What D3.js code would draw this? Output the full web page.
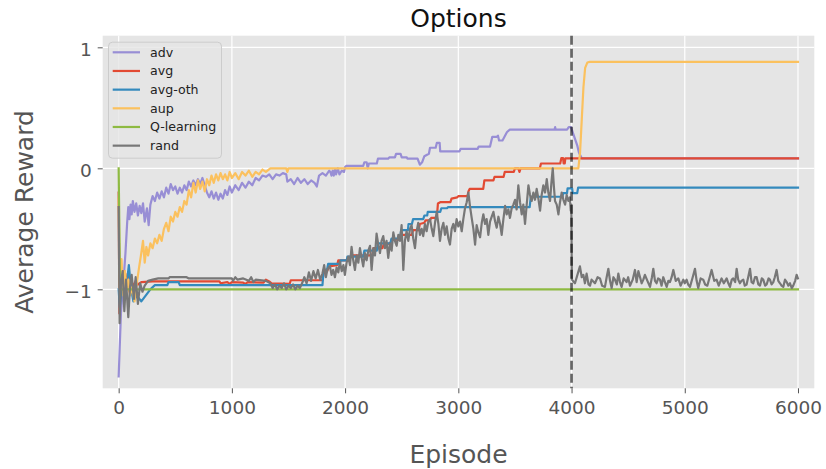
<!DOCTYPE html>
<html>
<head>
<meta charset="utf-8">
<script src="https://cdn.jsdelivr.net/npm/d3@7"></script>
<style>
  html, body { margin: 0; padding: 0; background: #fff; }
  svg { display: block; font-family: "DejaVu Sans", sans-serif; }
</style>
</head>
<body>
<svg id="chart" width="826" height="469"></svg>
<script>
// ---- data: [episode, average reward] ----
const seriesNames = ["adv", "avg", "avg-oth", "aup", "Q-learning", "rand"];
const seriesColors = ["#988ED5", "#E24A33", "#348ABD", "#FBC15E", "#8EBA42", "#777777"];
const xTicks = [0, 1000, 2000, 3000, 4000, 5000, 6000];
const yTicks = [-1, 0, 1];
const yTickLabels = ["\u22121", "0", "1"];
const switchEpisode = 4000;

const advData = [
  [0,-1.72],[20,-1.2],[45,-0.9],[60,-0.7],[75,-0.45],[85,-0.32],[95,-0.42],[105,-0.3],[115,-0.38],
  [125,-0.27],[140,-0.36],[155,-0.29],[170,-0.39],[185,-0.31],[200,-0.37],[215,-0.29],[230,-0.44],
  [250,-0.33],[265,-0.47],[280,-0.3],[300,-0.23],[320,-0.27],[340,-0.2],[360,-0.25],[380,-0.19],
  [400,-0.24],[420,-0.16],[440,-0.21],[460,-0.13],[480,-0.18],[500,-0.15],[520,-0.21],[540,-0.16],
  [560,-0.2],[580,-0.14],[600,-0.18],[620,-0.11],[640,-0.15],[660,-0.1],[680,-0.14],[700,-0.09],
  [720,-0.13],[740,-0.08],[760,-0.14],[780,-0.2],[800,-0.24],[820,-0.19],[840,-0.25],[860,-0.2],
  [880,-0.26],[900,-0.21],[920,-0.25],[940,-0.18],[960,-0.22],[980,-0.15],[1000,-0.2],[1030,-0.14],
  [1060,-0.18],[1090,-0.12],[1120,-0.16],[1150,-0.11],[1180,-0.14],[1210,-0.08],[1240,-0.1],
  [1270,-0.06],[1300,-0.07],[1330,-0.05],[1360,-0.09],[1390,-0.05],[1420,-0.06],[1450,-0.04],
  [1480,-0.05],[1490,-0.11],[1520,-0.09],[1550,-0.13],[1580,-0.08],[1610,-0.12],[1640,-0.09],
  [1670,-0.13],[1700,-0.1],[1730,-0.12],[1750,-0.15],[1770,-0.06],[1800,-0.04],[1830,-0.06],
  [1860,-0.02],[1870,-0.03],[1880,-0.06],[1890,-0.02],[1900,-0.06],[1910,-0.01],[1920,-0.05],
  [1935,0.0],[1950,-0.05],[1970,-0.02],[1990,-0.03],[2000,0.01],[2010,0.02],[2160,0.02],[2170,0.05],
  [2190,0.05],[2200,0.0],[2210,0.04],[2280,0.04],[2290,0.08],[2380,0.08],[2390,0.09],[2440,0.09],
  [2450,0.12],[2490,0.12],[2500,0.09],[2545,0.09],[2550,0.08],[2640,0.08],[2660,0.03],[2680,0.05],
  [2700,0.1],[2740,0.12],[2750,0.17],[2800,0.17],[2810,0.21],[2835,0.21],[2840,0.14],[3010,0.14],
  [3020,0.16],[3170,0.16],[3180,0.18],[3280,0.18],[3300,0.26],[3340,0.26],[3350,0.27],[3360,0.23],
  [3390,0.23],[3430,0.3],[3455,0.32],[3850,0.32],[3855,0.34],[3860,0.32],[3960,0.32],[3975,0.34],
  [3995,0.34],[4010,0.3],[4050,0.19],[4065,0.13],[4090,0.083],[6000,0.083]
];

const avgData = [
  [0,-0.2],[6,-1.2],[20,-0.9],[35,-1.0],[50,-0.85],[65,-0.95],[80,-0.87],[95,-1.02],[110,-0.92],
  [130,-0.98],[150,-0.93],[170,-0.96],[200,-0.94],[300,-0.935],[890,-0.935],[900,-0.95],[960,-0.94],
  [980,-0.955],[1000,-0.94],[1100,-0.945],[1120,-0.955],[1140,-0.94],[1280,-0.945],[1300,-0.92],
  [1330,-0.935],[1350,-0.95],[1510,-0.955],[1520,-0.925],[1800,-0.925],[1810,-0.87],[1840,-0.85],
  [1860,-0.81],[1930,-0.8],[1940,-0.76],[2040,-0.76],[2050,-0.72],[2240,-0.72],[2250,-0.66],
  [2330,-0.66],[2340,-0.63],[2400,-0.62],[2410,-0.59],[2480,-0.59],[2490,-0.55],[2590,-0.55],
  [2600,-0.51],[2650,-0.51],[2660,-0.46],[2700,-0.45],[2710,-0.43],[2750,-0.43],[2760,-0.41],
  [2810,-0.41],[2820,-0.29],[2840,-0.28],[2930,-0.28],[2940,-0.25],[2990,-0.24],[3000,-0.23],
  [3080,-0.23],[3090,-0.19],[3100,-0.17],[3220,-0.17],[3230,-0.1],[3310,-0.1],[3320,-0.07],
  [3400,-0.07],[3410,-0.03],[3490,-0.03],[3500,0.0],[3530,0.0],[3540,-0.03],[3550,0.0],[3720,0.0],
  [3730,0.04],[3900,0.04],[3910,0.085],[3925,0.085],[3930,0.04],[3940,0.04],[3945,0.083],[6000,0.083]
];

const avgOthData = [
  [0,-1.0],[10,-1.15],[30,-0.95],[60,-1.05],[90,-0.8],[110,-1.0],[130,-1.1],[160,-1.05],[200,-1.1],
  [240,-1.05],[280,-1.0],[320,-0.965],[430,-0.965],[440,-0.94],[530,-0.94],[540,-0.965],
  [1800,-0.965],[1810,-0.84],[1840,-0.84],[1850,-0.79],[1955,-0.79],[1960,-0.76],[2015,-0.76],
  [2020,-0.73],[2160,-0.73],[2170,-0.68],[2280,-0.68],[2290,-0.62],[2400,-0.62],[2410,-0.58],
  [2485,-0.58],[2495,-0.51],[2555,-0.51],[2560,-0.46],[2590,-0.46],[2600,-0.42],[2690,-0.42],
  [2700,-0.39],[2725,-0.39],[2730,-0.36],[2840,-0.36],[2850,-0.33],[2900,-0.33],[2910,-0.32],
  [3630,-0.32],[3640,-0.235],[3920,-0.235],[3925,-0.205],[3960,-0.205],[3965,-0.165],[4005,-0.165],
  [4010,-0.205],[4050,-0.205],[4058,-0.16],[6000,-0.16]
];

const aupData = [
  [0,-0.25],[10,-1.0],[25,-0.75],[40,-1.05],[55,-0.85],[70,-1.0],[85,-0.92],[100,-1.05],[120,-0.98],
  [140,-1.1],[160,-0.95],[180,-0.82],[200,-0.7],[215,-0.6],[230,-0.78],[245,-0.65],[260,-0.72],
  [280,-0.62],[300,-0.66],[320,-0.58],[340,-0.62],[360,-0.55],[380,-0.6],[400,-0.5],[420,-0.45],
  [440,-0.52],[460,-0.4],[480,-0.44],[500,-0.36],[520,-0.4],[540,-0.32],[560,-0.36],[580,-0.27],
  [600,-0.3],[620,-0.18],[640,-0.24],[660,-0.12],[680,-0.2],[700,-0.1],[720,-0.17],[740,-0.11],
  [760,-0.19],[780,-0.09],[800,-0.14],[820,-0.06],[840,-0.12],[860,-0.05],[880,-0.1],[900,-0.04],
  [920,-0.09],[940,-0.05],[960,-0.1],[980,-0.03],[1000,-0.08],[1030,-0.04],[1060,-0.09],[1090,-0.03],
  [1120,-0.06],[1150,-0.02],[1180,-0.07],[1210,-0.03],[1240,-0.05],[1270,-0.01],[1300,-0.03],
  [1340,0.0],[1480,0.0],[1490,-0.03],[1500,0.0],[4060,0.0],[4075,0.13],[4090,0.4],[4105,0.67],
  [4120,0.83],[4140,0.875],[4160,0.88],[6000,0.88]
];

const qLearningData = [
  [0,0.0],[12,-1.0],[6000,-1.0]
];

const randData = [
  [0,-0.32],[8,-1.28],[20,-0.95],[35,-0.85],[50,-1.18],[65,-0.92],[85,-1.23],[100,-0.98],[115,-0.88],
  [135,-1.08],[150,-0.9],[170,-1.12],[190,-0.95],[210,-1.02],[230,-0.97],[260,-0.93],[300,-0.92],
  [350,-0.91],[440,-0.91],[450,-0.9],[600,-0.9],[620,-0.91],[1000,-0.91],[1010,-0.93],[1030,-0.9],
  [1050,-0.92],[1100,-0.91],[1150,-0.93],[1170,-0.9],[1190,-0.94],[1210,-0.92],[1300,-0.93],
  [1340,-0.95],[1360,-0.99],[1380,-0.96],[1400,-1.0],[1420,-0.97],[1440,-0.99],[1460,-0.95],
  [1480,-1.0],[1500,-0.97],[1520,-0.99],[1540,-0.96],[1560,-1.0],[1580,-0.97],[1600,-0.99],
  [1620,-0.95],[1640,-0.9],[1660,-0.95],[1680,-0.86],[1700,-0.93],[1720,-0.85],[1740,-0.91],
  [1760,-0.84],[1780,-0.92],[1800,-0.87],[1815,-0.8],[1830,-0.9],[1845,-0.83],[1866,-0.81],
  [1880,-0.88],[1895,-0.84],[1910,-0.9],[1925,-0.82],[1940,-0.86],[1954,-0.77],[1970,-0.85],
  [1985,-0.8],[1998,-0.88],[2013,-0.78],[2028,-0.73],[2043,-0.8],[2057,-0.65],[2072,-0.76],
  [2087,-0.84],[2102,-0.72],[2117,-0.78],[2131,-0.66],[2146,-0.74],[2160,-0.81],[2175,-0.7],
  [2190,-0.76],[2205,-0.68],[2220,-0.64],[2234,-0.84],[2250,-0.66],[2264,-0.72],[2278,-0.54],
  [2293,-0.63],[2308,-0.7],[2322,-0.6],[2337,-0.56],[2352,-0.66],[2366,-0.6],[2381,-0.74],
  [2396,-0.62],[2411,-0.68],[2426,-0.53],[2440,-0.6],[2455,-0.64],[2470,-0.55],[2485,-0.6],
  [2499,-0.47],[2514,-0.84],[2528,-0.6],[2543,-0.52],[2558,-0.6],[2573,-0.5],[2587,-0.47],
  [2602,-0.58],[2617,-0.66],[2632,-0.52],[2646,-0.45],[2661,-0.55],[2676,-0.5],[2690,-0.56],
  [2705,-0.46],[2720,-0.52],[2735,-0.44],[2750,-0.42],[2765,-0.5],[2779,-0.56],[2794,-0.45],
  [2809,-0.36],[2824,-0.46],[2838,-0.6],[2853,-0.5],[2868,-0.45],[2882,-0.55],[2897,-0.48],
  [2912,-0.58],[2926,-0.63],[2941,-0.5],[2956,-0.46],[2970,-0.52],[2985,-0.42],[3000,-0.48],
  [3015,-0.44],[3030,-0.52],[3044,-0.42],[3059,-0.33],[3074,-0.28],[3089,-0.2],[3104,-0.32],
  [3118,-0.41],[3133,-0.5],[3148,-0.63],[3162,-0.47],[3177,-0.53],[3192,-0.57],[3207,-0.45],
  [3221,-0.38],[3236,-0.46],[3250,-0.42],[3265,-0.55],[3280,-0.44],[3295,-0.4],[3310,-0.36],
  [3325,-0.44],[3339,-0.49],[3354,-0.4],[3369,-0.46],[3383,-0.55],[3398,-0.42],[3413,-0.31],
  [3427,-0.38],[3442,-0.34],[3456,-0.41],[3471,-0.33],[3486,-0.3],[3501,-0.26],[3515,-0.34],
  [3530,-0.14],[3545,-0.28],[3560,-0.38],[3574,-0.3],[3589,-0.46],[3604,-0.3],[3619,-0.14],
  [3633,-0.22],[3648,-0.27],[3663,-0.2],[3677,-0.26],[3692,-0.17],[3707,-0.25],[3722,-0.35],
  [3736,-0.22],[3751,-0.14],[3766,-0.2],[3781,-0.09],[3795,-0.2],[3810,-0.27],[3822,-0.12],
  [3834,0.0],[3844,-0.15],[3854,-0.27],[3869,-0.3],[3884,-0.38],[3898,-0.28],[3913,-0.2],
  [3928,-0.26],[3943,-0.3],[3957,-0.22],[3972,-0.27],[3985,-0.24],[3993,-0.35],[3998,-0.3],
  [4003,-0.92],[4030,-0.95],[4074,-0.81],[4090,-0.9],[4104,-0.88],[4118,-0.95],[4133,-0.87],
  [4150,-0.96],[4163,-0.97],[4177,-0.92],[4207,-0.95],[4230,-0.9],[4251,-0.91],[4270,-0.97],
  [4295,-0.98],[4310,-0.9],[4325,-0.83],[4340,-0.93],[4354,-0.99],[4370,-0.9],[4383,-0.92],
  [4400,-0.96],[4413,-0.87],[4428,-0.94],[4442,-0.98],[4460,-0.91],[4486,-0.94],[4500,-0.9],
  [4516,-0.97],[4540,-0.92],[4560,-0.84],[4575,-0.94],[4590,-0.85],[4605,-0.9],[4619,-0.95],
  [4634,-0.92],[4648,-0.88],[4670,-0.93],[4693,-0.98],[4710,-0.9],[4722,-0.83],[4737,-0.93],
  [4751,-0.95],[4765,-0.91],[4781,-0.92],[4795,-0.97],[4810,-0.9],[4825,-0.94],[4840,-0.98],
  [4855,-0.93],[4869,-0.94],[4884,-0.9],[4899,-0.84],[4920,-0.93],[4943,-0.91],[4963,-0.97],
  [4987,-0.92],[5000,-0.95],[5016,-0.92],[5030,-0.96],[5046,-0.98],[5070,-0.9],[5090,-0.83],
  [5105,-0.93],[5119,-0.99],[5140,-0.91],[5163,-0.92],[5180,-0.96],[5199,-0.97],[5220,-0.9],
  [5237,-0.84],[5260,-0.93],[5281,-0.92],[5300,-0.97],[5325,-0.91],[5345,-0.95],[5370,-0.91],
  [5385,-0.95],[5399,-0.98],[5415,-0.92],[5428,-0.91],[5445,-0.94],[5458,-0.83],[5472,-0.92],
  [5487,-0.95],[5500,-0.93],[5517,-0.92],[5530,-0.97],[5546,-0.96],[5560,-0.9],[5576,-0.83],
  [5590,-0.94],[5605,-0.95],[5620,-0.9],[5635,-0.9],[5650,-0.96],[5664,-0.97],[5680,-0.91],
  [5693,-0.92],[5710,-0.97],[5723,-0.96],[5740,-0.91],[5752,-0.92],[5767,-0.96],[5782,-0.94],
  [5795,-0.9],[5811,-0.84],[5826,-0.93],[5841,-0.95],[5855,-0.97],[5870,-0.98],[5885,-0.92],
  [5900,-0.94],[5915,-0.97],[5929,-0.95],[5945,-0.99],[5958,-0.97],[5975,-0.93],[5988,-0.88],
  [5999,-0.91]
];

const seriesData = [advData, avgData, avgOthData, aupData, qLearningData, randData];

// ---- layout ----
const svg = d3.select("#chart");
const plot = { left: 102.7, right: 814.3, top: 35.7, bottom: 388.3 };

const x = d3.scaleLinear().domain([-141, 6144]).range([plot.left, plot.right]);
const y = d3.scaleLinear().domain([-1.818, 1.096]).range([plot.bottom, plot.top]);

// panel background
svg.append("rect")
  .attr("x", plot.left).attr("y", plot.top)
  .attr("width", plot.right - plot.left).attr("height", plot.bottom - plot.top)
  .attr("fill", "#E5E5E5");

// grid
const grid = svg.append("g").attr("stroke", "#FFFFFF").attr("stroke-width", 1.2);
grid.selectAll(".gx").data(xTicks).join("line")
  .attr("x1", d => x(d)).attr("x2", d => x(d))
  .attr("y1", plot.top).attr("y2", plot.bottom);
grid.selectAll(".gy").data(yTicks).join("line")
  .attr("x1", plot.left).attr("x2", plot.right)
  .attr("y1", d => y(d)).attr("y2", d => y(d));

// axes
const xAxis = d3.axisBottom(x).tickValues(xTicks).tickSize(5).tickPadding(7).tickFormat(d3.format("d"));
const gx = svg.append("g").attr("transform", `translate(0,${plot.bottom})`).call(xAxis);
gx.select(".domain").remove();
gx.selectAll(".tick line").attr("stroke", "#555").attr("stroke-width", 1);
gx.selectAll(".tick text")
  .attr("fill", "#555").attr("font-size", "18.5px")
  .attr("font-family", "DejaVu Sans").attr("dy", null).attr("y", 26);

const yAxis = d3.axisLeft(y).tickValues(yTicks).tickSize(5).tickPadding(6)
  .tickFormat((d, i) => yTickLabels[i]);
const gy = svg.append("g").attr("transform", `translate(${plot.left},0)`).call(yAxis);
gy.select(".domain").remove();
gy.selectAll(".tick line").attr("stroke", "#555").attr("stroke-width", 1);
gy.selectAll(".tick text")
  .attr("fill", "#555").attr("font-size", "18.5px")
  .attr("font-family", "DejaVu Sans").attr("dy", null).attr("y", 8.5).attr("x", -11);

// series lines
const line = d3.line().x(d => x(d[0])).y(d => y(d[1]));
svg.append("clipPath").attr("id", "plotclip").append("rect")
  .attr("x", plot.left).attr("y", plot.top)
  .attr("width", plot.right - plot.left).attr("height", plot.bottom - plot.top);
const lines = svg.append("g").attr("clip-path", "url(#plotclip)");
lines.selectAll("path").data(seriesData).join("path")
  .attr("d", d => line(d))
  .attr("fill", "none")
  .attr("stroke", (d, i) => seriesColors[i])
  .attr("stroke-width", 2.2)
  .attr("stroke-linejoin", "round")
  .attr("stroke-linecap", "square");

// vertical marker at the switch episode
svg.append("line")
  .attr("x1", x(switchEpisode)).attr("x2", x(switchEpisode))
  .attr("y1", plot.top).attr("y2", plot.bottom)
  .attr("stroke", "#000").attr("stroke-opacity", 0.6)
  .attr("stroke-width", 2.6).attr("stroke-dasharray", "9,4");

// legend
const legend = svg.append("g").attr("transform", "translate(108,41.7)");
legend.append("rect")
  .attr("x", 0.5).attr("y", 0.5).attr("width", 113).attr("height", 116)
  .attr("rx", 4).attr("ry", 4)
  .attr("fill", "#E5E5E5").attr("fill-opacity", 0.8)
  .attr("stroke", "#CCCCCC").attr("stroke-width", 1);
const rowH = 18.67;
const items = legend.selectAll(".item").data(seriesNames).join("g")
  .attr("transform", (d, i) => `translate(0,${10.6 + i * rowH})`);
items.append("line")
  .attr("x1", 4.7).attr("x2", 32)
  .attr("stroke", (d, i) => seriesColors[i]).attr("stroke-width", 2.2);
items.append("text")
  .attr("x", 42).attr("y", 4.4)
  .attr("font-size", "12.6px").attr("fill", "#222")
  .text(d => d);

// titles
svg.append("text")
  .attr("x", (plot.left + plot.right) / 2).attr("y", 27.3)
  .attr("text-anchor", "middle").attr("font-size", "25px").attr("fill", "#111")
  .text("Options");
svg.append("text")
  .attr("x", (plot.left + plot.right) / 2).attr("y", 463.3)
  .attr("text-anchor", "middle").attr("font-size", "25px").attr("fill", "#555")
  .text("Episode");
svg.append("text")
  .attr("transform", `translate(33.3,${(plot.top + plot.bottom) / 2}) rotate(-90)`)
  .attr("text-anchor", "middle").attr("font-size", "25px").attr("fill", "#555")
  .text("Average Reward");
</script>
</body>
</html>
